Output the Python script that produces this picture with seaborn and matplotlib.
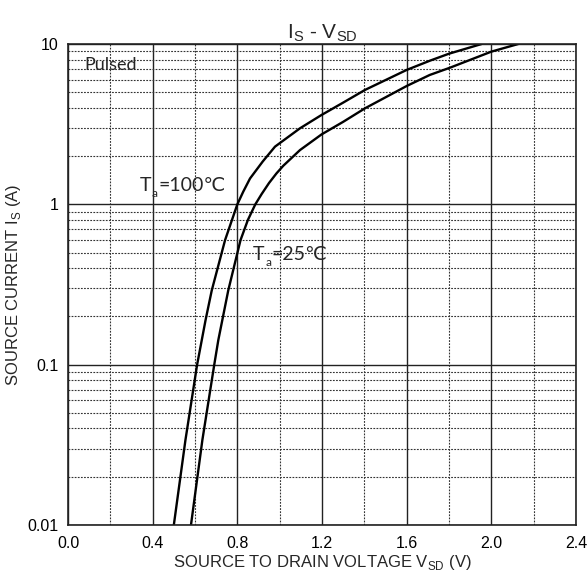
import numpy as np
import pandas as pd
import seaborn as sns
import matplotlib.pyplot as plt
from matplotlib.ticker import FixedLocator, FuncFormatter, NullFormatter

# (V_SD in volts, I_S in amps)
vsd_100 = [0.50, 0.555, 0.61, 0.65, 0.679, 0.742, 0.80, 0.828, 0.86, 0.92, 0.978,
           1.096, 1.198, 1.30, 1.403, 1.60, 1.71, 1.80, 1.954]
is_100 = [0.01, 0.034, 0.1, 0.19, 0.29, 0.598, 1.0, 1.20, 1.45, 1.85, 2.29,
          2.98, 3.61, 4.31, 5.17, 6.89, 7.87, 8.7, 10.0]
vsd_25 = [0.581, 0.635, 0.691, 0.710, 0.757, 0.815, 0.85, 0.885, 0.915, 0.950, 0.985, 1.017,
          1.096, 1.198, 1.30, 1.403, 1.60, 1.709, 1.804, 2.0, 2.127]
is_25 = [0.01, 0.034, 0.1, 0.142, 0.29, 0.598, 0.80, 1.0, 1.16, 1.36, 1.56, 1.74,
         2.18, 2.73, 3.27, 3.97, 5.47, 6.41, 7.11, 8.96, 10.0]

x_ticks = [0.0, 0.4, 0.8, 1.2, 1.6, 2.0, 2.4]
x_minor = [0.2, 0.6, 1.0, 1.4, 1.8, 2.2]
y_ticks = [0.01, 0.1, 1, 10]

df = pd.concat([
    pd.DataFrame({'V': vsd_100, 'I': is_100, 'T': '100'}),
    pd.DataFrame({'V': vsd_25, 'I': is_25, 'T': '25'}),
])

sns.set_style('white')
plt.rcParams['font.family'] = ['Liberation Sans', 'DejaVu Sans']
plt.rcParams['mathtext.fontset'] = 'custom'
plt.rcParams['mathtext.rm'] = 'Liberation Sans'

fig, ax = plt.subplots(figsize=(5.88, 5.78), dpi=100)
fig.subplots_adjust(left=68/588, right=576/588, top=1-44/578, bottom=1-525/578)

ax.set_yscale('log')
ax.set_xlim(0, 2.4)
ax.set_ylim(0.01, 10)

# grid
ax.xaxis.set_major_locator(FixedLocator(x_ticks))
ax.xaxis.set_minor_locator(FixedLocator(x_minor))
ax.yaxis.set_major_locator(FixedLocator(y_ticks))
minor_y = [m * d for d in [0.01, 0.1, 1] for m in range(2, 10)]
ax.yaxis.set_minor_locator(FixedLocator(minor_y))
ax.yaxis.set_minor_formatter(NullFormatter())
ax.grid(which='major', color='#222222', linewidth=1.0, linestyle='-')
ax.grid(which='minor', color='#333333', linewidth=0.8, linestyle=(0, (1.6, 1.2)))

sns.lineplot(data=df, x='V', y='I', hue='T', palette={'100': 'black', '25': 'black'},
             sort=False, estimator=None, linewidth=1.7, legend=False, ax=ax)

ax.xaxis.set_major_formatter(FuncFormatter(lambda v, p: f'{v:.1f}'))
ax.yaxis.set_major_formatter(FuncFormatter(lambda v, p: f'{v:g}'))
ax.tick_params(which='both', length=0, labelsize=11.5, colors='black')
ax.tick_params(axis='x', pad=8)
ax.tick_params(axis='y', pad=7)

for s in ax.spines.values():
    s.set_color('#222222')
    s.set_linewidth(1.2)

ax.set_xlabel(r'SOURCE TO DRAIN VOLTAGE V$_\mathregular{SD}$ (V)', fontsize=12, labelpad=1)
ax.set_ylabel(r'SOURCE CURRENT I$_\mathregular{S}$ (A)', fontsize=12, labelpad=3)
ax.set_title(r'I$_\mathregular{S}$ - V$_\mathregular{SD}$', fontsize=15, pad=4)

lbl = ['Lato', 'DejaVu Sans']
ax.text(0.075, 7.4, 'Pulsed', fontsize=13, family=lbl, va='center', ha='left')


def temp_label(x, y, rest):
    t = ax.text(x, y, 'T', fontsize=14, family=lbl, va='bottom', ha='left')
    s = ax.annotate('a', xy=(1, 0), xycoords=t, xytext=(0.3, -3.5),
                    textcoords='offset points', fontsize=8.5, family=lbl, va='bottom')
    ax.annotate(rest, xy=(1, 0), xycoords=(s, t), xytext=(0.5, 0),
                textcoords='offset points', fontsize=14, family=lbl, va='bottom')


temp_label(0.34, 1.16, '=100℃')
temp_label(0.875, 0.43, '=25℃')

fig.savefig('out.png', dpi=100)
